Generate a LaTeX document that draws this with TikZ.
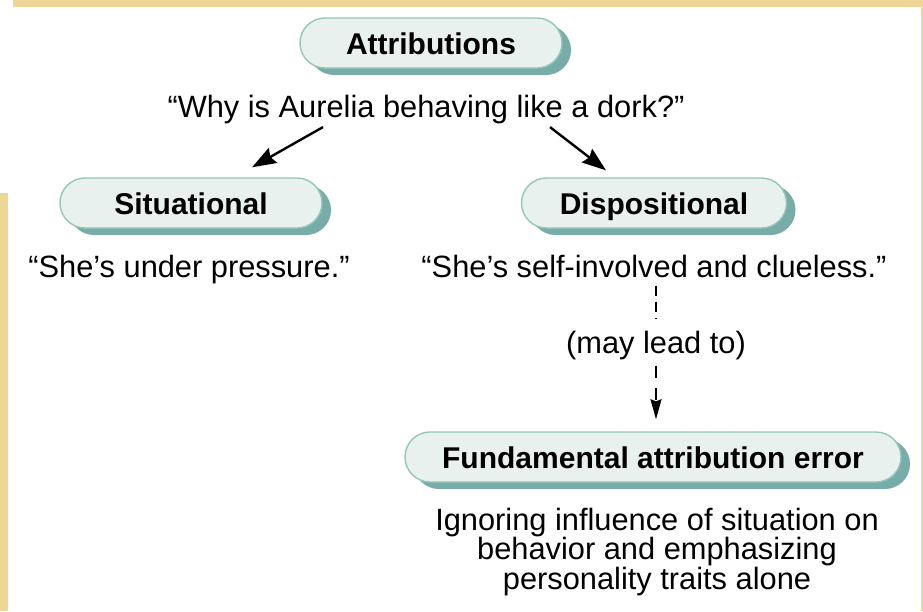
\documentclass[tikz,border=0pt]{standalone}
\usepackage{fontspec}
\setmainfont{Liberation Sans}
\usetikzlibrary{shadows,arrows.meta,calc}
\definecolor{parch}{RGB}{238,214,150}
\definecolor{pillfill}{RGB}{232,241,237}
\definecolor{pillline}{RGB}{150,198,186}
\definecolor{pillshadow}{RGB}{120,172,168}
\begin{document}
\begin{tikzpicture}[x=1pt,y=-1pt,
  pill/.style={draw=pillline, line width=1.4pt, fill=pillfill, rounded corners=25pt,
    minimum height=50pt, text height=22pt, text depth=0pt, inner sep=0pt,
    font=\fontsize{30}{30}\bfseries\selectfont,
    drop shadow={shadow xshift=9pt, shadow yshift=-7pt, fill=pillshadow, opacity=1, draw=none}},
  txt/.style={anchor=base, inner sep=0pt, font=\fontsize{30.8}{29.5}\selectfont},
  arr/.style={line width=2.4pt, -{Stealth[length=24pt,width=17pt,inset=3pt]}},
  dashln/.style={line width=2pt, dash pattern=on 10pt off 6pt},
  dasharr/.style={line width=2pt, dash pattern=on 12pt off 10pt, -{Stealth[length=20pt,width=11pt,inset=2pt]}}]
% background
\fill[parch] (0,0) rectangle (923,611);
\fill[white] (8,7) rectangle (921,611);
\fill[white] (0,0) rectangle (13,193);
\useasboundingbox (0,0) rectangle (923,611);
% pills
\node[pill, minimum width=262pt] (att) at (431,43) {Attributions};
\node[pill, minimum width=262pt] (sit) at (191,203) {Situational};
\node[pill, minimum width=265pt] (disp) at (654,203) {Dispositional};
\node[pill, minimum width=496pt] (fae) at (653,457) {Fundamental attribution error};
% texts
\node[txt] (q) at (426,117) {“Why is Aurelia behaving like a dork?”};
\node[txt] (sq) at (189,277) {“She’s under pressure.”};
\node[txt] (dq) at (654,277) {“She’s self-involved and clueless.”};
\node[txt] (may) at (656,353) {(may lead to)};
\node[txt] (d1) at (657,530) {Ignoring influence of situation on};
\node[txt] (d2) at (657,559.5) {behavior and emphasizing};
\node[txt] (d3) at (657,589) {personality traits alone};
% connectors
\draw[arr] ($(q.south)+(-103,3.5)$) -- ($(sit.north)+(61,-10)$);
\draw[arr] ($(q.south)+(124,3.5)$) -- ($(disp.north)+(-48,-7)$);
\draw[dashln] ($(may.north |- dq.south)+(0,8)$) -- ($(may.north)+(0,-12)$);
\draw[dasharr] ($(may.south)+(0,6)$) -- ($(may.south |- fae.north)+(0,-12)$);
\end{tikzpicture}
\end{document}
